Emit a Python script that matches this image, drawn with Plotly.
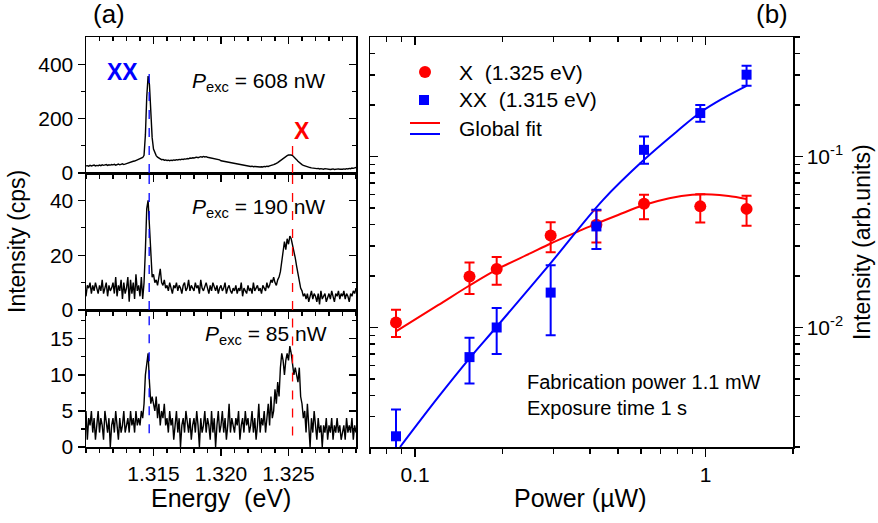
import plotly.graph_objects as go

W, H = 878, 523
FONT = "Arial, Liberation Sans, Helvetica, sans-serif"

# ---------------- data: panel (a) spectra ----------------
E_START = 1.3100
E_STEP = 0.0001
spec_608 = [26, 27, 25, 28, 26, 27, 29, 26, 28, 27,
            29, 27, 30, 28, 29, 31, 28, 30, 29, 31,
            30, 32, 29, 31, 33, 30, 32, 34, 31, 33,
            34, 35, 37, 39, 41, 43, 44, 46, 48, 50,
            52, 54, 57, 65, 140, 280, 356, 325, 215, 130,
            88, 72, 64, 58, 55, 52, 49, 50, 47, 48,
            46, 47, 45, 47, 46, 48, 47, 49, 48, 50,
            49, 51, 50, 52, 51, 53, 52, 55, 54, 56,
            55, 57, 58, 56, 59, 60, 58, 61, 59, 60,
            58, 57, 56, 55, 53, 54, 52, 51, 50, 48,
            45, 44, 43, 42, 41, 40, 39, 38, 37, 36,
            35, 34, 33, 32, 31, 30, 29, 28, 27, 26,
            26, 25, 24, 25, 23, 24, 23, 22, 23, 22,
            23, 22, 24, 23, 25, 24, 26, 27, 29, 31,
            33, 35, 38, 42, 46, 50, 55, 59, 62, 64,
            66, 67, 66, 64, 60, 55, 49, 43, 38, 34,
            31, 28, 26, 24, 23, 21, 20, 19, 18, 17,
            17, 16, 17, 15, 16, 15, 14, 16, 15, 14,
            15, 13, 14, 15, 13, 14, 13, 15, 14, 13,
            14, 15, 14, 16, 15, 17, 16, 18, 17, 19, 20]
spec_190 = [5, 9, 8, 10, 6, 9, 7, 10, 8, 6,
            9, 7, 11, 6, 8, 10, 5, 9, 7, 8,
            10, 6, 12, 5, 9, 7, 11, 4, 10, 6,
            8, 12, 3, 11, 6, 10, 4, 13, 7, 9,
            5, 12, 4, 10, 22, 37, 40, 30, 18, 12,
            13, 10, 11, 9, 12, 15, 10, 9, 11, 8,
            9, 7, 10, 8, 6, 9, 8, 10, 7, 9,
            8, 6, 9, 10, 7, 8, 11, 7, 9, 8,
            7, 10, 8, 9, 6, 11, 8, 7, 9, 10,
            8, 6, 9, 7, 10, 8, 7, 9, 6, 8,
            9, 7, 8, 10, 6, 8, 9, 7, 6, 8,
            7, 9, 6, 8, 7, 10, 5, 8, 7, 6,
            9, 7, 8, 6, 10, 7, 8, 9, 7, 8,
            6, 9, 8, 7, 10, 8, 9, 11, 10, 12,
            10, 9, 11, 12, 14, 18, 23, 25, 22, 26,
            24, 27, 26, 24, 21, 19, 16, 13, 11, 8,
            7, 5, 6, 4, 6, 3, 5, 7, 4, 6,
            5, 3, 6, 2, 7, 4, 5, 6, 3, 5,
            6, 4, 7, 5, 3, 6, 5, 7, 4, 6,
            5, 7, 4, 6, 5, 3, 6, 5, 7, 6, 8]
spec_85 = [5, 1, 4, 3, 5, 2, 4, 1, 3, 5,
           2, 4, 3, 1, 5, 3, 2, 4, 0, 3,
           4, 2, 5, 3, 1, 4, 2, 3, 5, 2,
           3, 4, 2, 5, 3, 4, 2, 5, 3, 4,
           3, 5, 4, 6, 10, 12, 13, 9, 6, 7,
           6, 5, 7, 4, 6, 3, 5, 4, 6, 3,
           4, 2, 5, 3, 4, 1, 3, 5, 2, 4,
           0, 3, 4, 2, 5, 3, 2, 4, 1, 3,
           4, 2, 5, 3, 0, 4, 2, 3, 5, 2,
           4, 3, 1, 5, 2, 4, 0, 3, 5, 2,
           3, 5, 2, 4, 1, 3, 6, 2, 4, 3,
           2, 4, 3, 5, 1, 3, 4, 2, 5, 3,
           4, 2, 3, 5, 2, 4, 1, 3, 6, 2,
           4, 3, 5, 2, 4, 6, 3, 7, 4, 5,
           8, 6, 9, 7, 11, 13, 12, 10, 12, 13,
           12, 14, 13, 11, 10, 11, 10, 9, 11, 7,
           6, 4, 5, 2, 6, 3, 0, 4, 2, 5,
           3, 1, 4, 2, 3, 0, 3, 2, 4, 1,
           3, 2, 4, 1, 3, 2, 4, 2, 3, 1,
           2, 3, 1, 4, 2, 3, 2, 4, 1, 3, 2]
energy = [round(E_START + i * E_STEP, 4) for i in range(len(spec_608))]
E_XX = 1.31468
E_X = 1.3253

# ---------------- data: panel (b) power dependence ----------------
power = [0.086, 0.154, 0.191, 0.293, 0.421, 0.614, 0.959, 1.384]
I_X = [0.0107, 0.0199, 0.0220, 0.0345, 0.0399, 0.0529, 0.0511, 0.0494]
I_X_plus = [0.0020, 0.0041, 0.0038, 0.0068, 0.0084, 0.0068, 0.0091, 0.0095]
I_X_minus = [0.0019, 0.0042, 0.0042, 0.0070, 0.0085, 0.0099, 0.0100, 0.0100]
I_XX = [0.00231, 0.00671, 0.0100, 0.0160, 0.0390, 0.1094, 0.1795, 0.301]
I_XX_plus = [0.0010, 0.0020, 0.0030, 0.0071, 0.0098, 0.0216, 0.0205, 0.039]
I_XX_minus = [0.0022, 0.0020, 0.0030, 0.0070, 0.0102, 0.0188, 0.0199, 0.042]

fitX_P = [0.086, 0.12, 0.154, 0.191, 0.25, 0.293, 0.365, 0.421, 0.5, 0.614, 0.75, 0.9, 1.05, 1.2, 1.384]
fitX_I = [0.0095, 0.0135, 0.0176, 0.0218, 0.0272, 0.0310, 0.0365, 0.0405, 0.0455, 0.0520, 0.0570, 0.0598, 0.0600, 0.0588, 0.0565]
fitXX_P = [0.0888, 0.12, 0.154, 0.191, 0.293, 0.444, 0.614, 0.8, 0.959, 1.15, 1.384]
fitXX_I = [0.00200, 0.0039, 0.0066, 0.0101, 0.0238, 0.0558, 0.0957, 0.141, 0.181, 0.219, 0.259]

# tick definitions
E_TICKS = [1.315, 1.320, 1.325]
E_LABELS = ["1.315", "1.320", "1.325"]
Y85_TICKS, Y85_MINOR = [0, 5, 10, 15], [2.5, 7.5, 12.5, 17.5]
Y190_TICKS, Y190_MINOR = [0, 20, 40], [10, 30]
Y608_TICKS, Y608_MINOR = [0, 200, 400], [100, 300]
P_TICKS, P_LABELS = [0.1, 1], ["0.1", "1"]
P_MINOR = [0.07, 0.08, 0.09, 0.2, 0.3, 0.4, 0.5, 0.6, 0.7, 0.8, 0.9, 2]
I_TICKS, I_LABELS = [0.01, 0.1], ["10<sup>-2</sup>", "10<sup>-1</sup>"]
I_MINOR = [0.002, 0.003, 0.004, 0.005, 0.006, 0.007, 0.008, 0.009,
           0.02, 0.03, 0.04, 0.05, 0.06, 0.07, 0.08, 0.09, 0.2, 0.3, 0.4, 0.5]

RED = "#ff0000"
BLUE = "#0000ff"


def px(x):
    return x / W


def py(y):
    return 1 - y / H


fig = go.Figure()

for spec, xa, ya in [(spec_85, "x", "y"), (spec_190, "x2", "y2"), (spec_608, "x3", "y3")]:
    fig.add_trace(go.Scatter(x=energy, y=spec, mode="lines", xaxis=xa, yaxis=ya,
                             line=dict(color="black", width=1.4), showlegend=False,
                             hoverinfo="skip"))

fig.add_trace(go.Scatter(x=fitX_P, y=fitX_I, mode="lines", xaxis="x4", yaxis="y4",
                         line=dict(color=RED, width=2, shape="spline"), showlegend=False))
fig.add_trace(go.Scatter(x=fitXX_P, y=fitXX_I, mode="lines", xaxis="x4", yaxis="y4",
                         line=dict(color=BLUE, width=2, shape="spline"), showlegend=False))
fig.add_trace(go.Scatter(x=power, y=I_X, mode="markers", xaxis="x4", yaxis="y4",
                         marker=dict(symbol="circle", size=12, color=RED),
                         error_y=dict(type="data", symmetric=False, array=I_X_plus,
                                      arrayminus=I_X_minus, color=RED, thickness=2, width=5),
                         showlegend=False))
fig.add_trace(go.Scatter(x=power, y=I_XX, mode="markers", xaxis="x4", yaxis="y4",
                         marker=dict(symbol="square", size=10, color=BLUE),
                         error_y=dict(type="data", symmetric=False, array=I_XX_plus,
                                      arrayminus=I_XX_minus, color=BLUE, thickness=2, width=5),
                         showlegend=False))

# empty traces registering the overlay (mirror-tick) axes
for xa, ya in [("x5", "y"), ("x6", "y2"), ("x7", "y3"), ("x8", "y4"),
               ("x", "y5"), ("x2", "y6"), ("x3", "y7"), ("x4", "y8")]:
    fig.add_trace(go.Scatter(x=[], y=[], xaxis=xa, yaxis=ya, showlegend=False,
                             hoverinfo="skip"))

xl = [px(86), px(356)]
xr = [px(370), px(793)]
y_top = py(37)
y_b1 = py(173)
y_b2 = py(310)
y_bot = py(447)

tickfont = dict(family=FONT, size=21, color="black")


def axis(domain, anchor, rng, tickvals, minor_vals, ticktext=None, inside=False,
         labels=True, side=None, log=False, overlay=None, major_len=7, minor_len=4):
    d = dict(domain=domain, anchor=anchor, range=rng, showgrid=False, zeroline=False,
             automargin=False,
             ticks="inside" if inside else "outside", tickcolor="black", tickwidth=1.3,
             ticklen=major_len, tickfont=tickfont, tickmode="array", tickvals=tickvals,
             showticklabels=labels, fixedrange=True,
             minor=dict(tickmode="array", tickvals=minor_vals,
                        ticks="inside" if inside else "outside",
                        ticklen=minor_len, tickcolor="black", tickwidth=1.2, showgrid=False))
    if ticktext is not None:
        d["ticktext"] = ticktext
    if overlay:
        d["overlaying"] = overlay
        d["showline"] = False
    else:
        d["showline"] = True
        d["linecolor"] = "black"
        d["linewidth"] = 1.5
        d["mirror"] = True
    if side:
        d["side"] = side
    if log:
        d["type"] = "log"
    return d


E_MINOR = [round(1.310 + 0.001 * k, 3) for k in range(21)]
ER = [1.310, 1.330]
PR = [-1.155, 0.301]
IR = [-2.699, -0.301]

layout_axes = dict(
    xaxis=axis(xl, "y", ER, E_TICKS, E_MINOR, E_LABELS),
    xaxis2=axis(xl, "y2", ER, E_TICKS, E_MINOR, labels=False),
    xaxis3=axis(xl, "y3", ER, E_TICKS, E_MINOR, labels=False),
    xaxis4=axis(xr, "y4", PR, P_TICKS, P_MINOR, P_LABELS, log=True, major_len=8, minor_len=5),
    yaxis=axis([y_bot, y_b2], "x", [0, 19], Y85_TICKS, Y85_MINOR),
    yaxis2=axis([y_b2, y_b1], "x2", [0, 50], Y190_TICKS, Y190_MINOR),
    yaxis3=axis([y_b1, y_top], "x3", [0, 500], Y608_TICKS, Y608_MINOR),
    yaxis4=axis([y_bot, y_top], "x4", IR, I_TICKS, I_MINOR, I_LABELS, side="right", log=True,
                major_len=8, minor_len=5),
    # mirrored sides: ticks pointing inwards, no labels
    xaxis5=axis(xl, "y", ER, E_TICKS, E_MINOR, inside=True, labels=False, side="top", overlay="x"),
    xaxis6=axis(xl, "y2", ER, E_TICKS, E_MINOR, inside=True, labels=False, side="top", overlay="x2"),
    xaxis7=axis(xl, "y3", ER, E_TICKS, E_MINOR, inside=True, labels=False, side="top", overlay="x3"),
    xaxis8=axis(xr, "y4", PR, P_TICKS, P_MINOR, inside=True, labels=False, side="top",
                log=True, overlay="x4", major_len=8, minor_len=5),
    yaxis5=axis([y_bot, y_b2], "x", [0, 19], Y85_TICKS, Y85_MINOR, inside=True, labels=False,
                side="right", overlay="y"),
    yaxis6=axis([y_b2, y_b1], "x2", [0, 50], Y190_TICKS, Y190_MINOR, inside=True, labels=False,
                side="right", overlay="y2"),
    yaxis7=axis([y_b1, y_top], "x3", [0, 500], Y608_TICKS, Y608_MINOR, inside=True, labels=False,
                side="right", overlay="y3"),
    yaxis8=axis([y_bot, y_top], "x4", IR, I_TICKS, I_MINOR, inside=True, labels=False,
                side="left", log=True, overlay="y4", major_len=8, minor_len=5),
)

fig.update_layout(width=W, height=H, margin=dict(l=0, r=0, t=0, b=0, pad=0, autoexpand=False),
                  paper_bgcolor="white", plot_bgcolor="white",
                  font=dict(family=FONT, color="black"), **layout_axes)

# dashed guide lines through the spectra
dash = dict(width=1.3, dash="dash")
for xa, ya, xx_rng, x_rng in [("x3", "y3", (0, 385), (0, 110)),
                               ("x2", "y2", (0, 50), (0, 50)),
                               ("x", "y", (1.9, 19), (1.6, 19))]:
    fig.add_shape(type="line", xref=xa, yref=ya, x0=E_XX, x1=E_XX, y0=xx_rng[0], y1=xx_rng[1],
                  line=dict(color=BLUE, **dash))
    fig.add_shape(type="line", xref=xa, yref=ya, x0=E_X, x1=E_X, y0=x_rng[0], y1=x_rng[1],
                  line=dict(color=RED, **dash))


def ann(text, x, y, size, color="black", xanchor="center", angle=0, bold=False):
    fig.add_annotation(text=("<b>%s</b>" % text) if bold else text,
                       x=px(x), y=py(y), xref="paper", yref="paper",
                       xanchor=xanchor, yanchor="middle", showarrow=False, textangle=angle,
                       font=dict(family=FONT, size=size, color=color))


ann("(a)", 109, 14, 26)
ann("(b)", 772, 14, 26)
ann("XX", 122, 72, 23, BLUE, bold=True)
ann("X", 302, 131, 23, RED, bold=True)
ann("<i>P</i><sub>exc</sub> = 608 nW", 190, 82, 21, xanchor="left")
ann("<i>P</i><sub>exc</sub> = 190 nW", 190, 208, 21, xanchor="left")
ann("<i>P</i><sub>exc</sub> = 85 nW", 203, 335, 21, xanchor="left")
ann("Intensity (cps)", 17, 242, 23, angle=-90)
ann("Intensity (arb.units)", 862, 242, 23, angle=-90)
ann("Energy  (eV)", 221, 498, 25)
ann("Power (\u00b5W)", 580, 498, 25)
ann("Fabrication power 1.1 mW", 525, 382, 20, xanchor="left")
ann("Exposure time 1 s", 525, 408, 20, xanchor="left")

# custom legend
ann("X  (1.325 eV)", 457, 72, 21, xanchor="left")
ann("XX  (1.315 eV)", 457, 100, 21, xanchor="left")
ann("Global fit", 457, 128, 21, xanchor="left")
fig.add_shape(type="circle", xref="paper", yref="paper", x0=px(419), x1=px(431),
              y0=py(66), y1=py(78), fillcolor=RED, line=dict(color=RED, width=0))
fig.add_shape(type="rect", xref="paper", yref="paper", x0=px(419), x1=px(429),
              y0=py(95), y1=py(105), fillcolor=BLUE, line=dict(color=BLUE, width=0))
fig.add_shape(type="line", xref="paper", yref="paper", x0=px(410), x1=px(440),
              y0=py(123), y1=py(123), line=dict(color=RED, width=2))
fig.add_shape(type="line", xref="paper", yref="paper", x0=px(410), x1=px(440),
              y0=py(134), y1=py(134), line=dict(color=BLUE, width=2))

fig.write_html(
    "out.html",
    config={"displayModeBar": False, "staticPlot": True},
    post_script=("var d=document.getElementById('{plot_id}');"
                 "d.style.position='fixed';d.style.top='0px';d.style.left='0px';"
                 "document.body.style.margin='0px';"
                 "document.documentElement.style.overflow='hidden';"
                 "document.body.style.overflow='hidden';"),
)
